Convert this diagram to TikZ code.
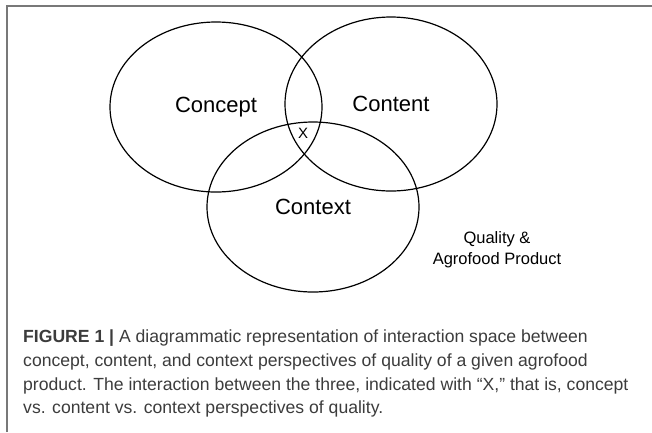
\documentclass[tikz,border=0pt]{standalone}
\usepackage{fontspec}
\setmainfont{Liberation Sans}
\usetikzlibrary{shapes.geometric}
\definecolor{framegray}{RGB}{120,120,120}
\definecolor{captxt}{RGB}{60,60,60}
\tikzset{
  venn/.style={ellipse, draw=black, line width=1.2pt, inner sep=0pt,
    minimum width=212pt, minimum height=170pt, font=\fontsize{22}{25}\selectfont},
  capline/.style={anchor=base west, inner sep=0pt, text=captxt, font=\fontsize{17.6}{20}\selectfont},
  frameline/.style={draw=framegray, line width=1.6pt}
}
\begin{document}
\begin{tikzpicture}[x=1pt,y=-1pt]
\useasboundingbox (0,0) rectangle (652,432);
% frame
\coordinate (fbl) at (7,432);
\coordinate (ftl) at (7,6);
\coordinate (ftr) at (652,6);
\draw[frameline] (fbl) -- (ftl) -- (ftr);
% ellipses
\node[venn] (concept) at (216,107) {Concept};
\node[venn, minimum height=174pt] (content) at (391,104) {Content};
\node[venn] (context) at (313,207) {Context};
\node[font=\fontsize{15}{17}\selectfont, inner sep=0pt] (x) at (303,133) {X};
\node[font=\fontsize{16.5}{21}\selectfont, align=center, inner sep=0pt] (qual) at (497,250) {Quality \&\\Agrofood Product};
% caption
\node[capline] (c1) at (23,342) {\textbf{FIGURE 1 |} A diagrammatic representation of interaction space between};
\node[capline] (c2) at (23,366) {concept, content, and context perspectives of quality of a given agrofood};
\node[capline] (c3) at (23,390) {product. The interaction between the three, indicated with “X,” that is, concept};
\node[capline] (c4) at (23,413) {vs. content vs. context perspectives of quality.};
\end{tikzpicture}
\end{document}
